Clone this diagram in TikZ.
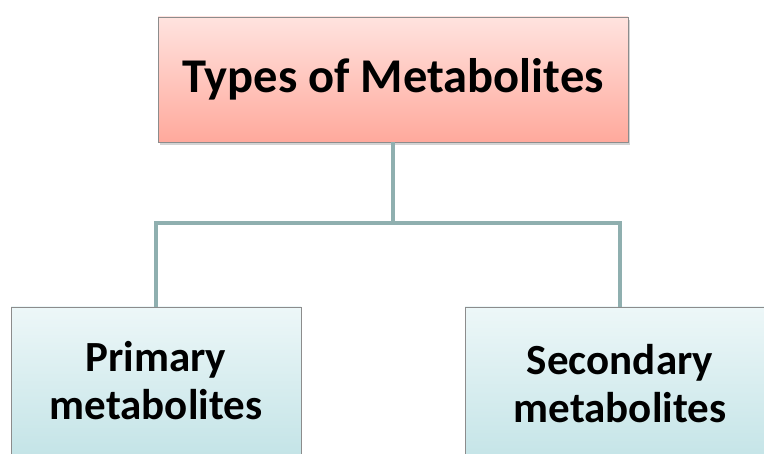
\documentclass[tikz,border=0pt]{standalone}
\usepackage{fontspec}
\setmainfont{Carlito}
\usetikzlibrary{shadows}
\definecolor{linecol}{HTML}{8FAFAF}
\definecolor{pinktop}{HTML}{FFE3DF}
\definecolor{pinkbot}{HTML}{FFA99C}
\definecolor{cyantop}{HTML}{EDF7F8}
\definecolor{cyanbot}{HTML}{C4E4E7}
\definecolor{boxedge}{HTML}{8C8C8C}
\tikzset{
  topbox/.style={draw=boxedge, line width=0.8pt, top color=pinktop, bottom color=pinkbot,
    minimum width=470pt, minimum height=125pt, inner sep=0pt,
    font=\fontsize{48.5}{56}\bfseries\selectfont,
    drop shadow={shadow xshift=2pt, shadow yshift=-3pt, opacity=0.35}},
  subbox/.style={draw=boxedge, line width=0.8pt, top color=cyantop, bottom color=cyanbot,
    minimum height=148pt, inner sep=0pt, align=center,
    font=\fontsize{43}{48}\bfseries\selectfont},
  link/.style={draw=linecol, line width=4pt}
}
\begin{document}
\begin{tikzpicture}[x=1pt,y=-1pt]
\useasboundingbox (0,0) rectangle (764,454);
\node[topbox] (top) at (393,79.5) {Types of Metabolites};
\node[subbox, minimum width=290pt] (left) at (156,381) {Primary\\metabolites};
\node[subbox, minimum width=310pt, minimum height=154pt] (right) at (620,384) {Secondary\\metabolites};
\coordinate (j) at (393,223);
\draw[link] (top.south) -- (j);
\draw[link] (left.north) |- (j) -| (right.north);
\end{tikzpicture}
\end{document}
